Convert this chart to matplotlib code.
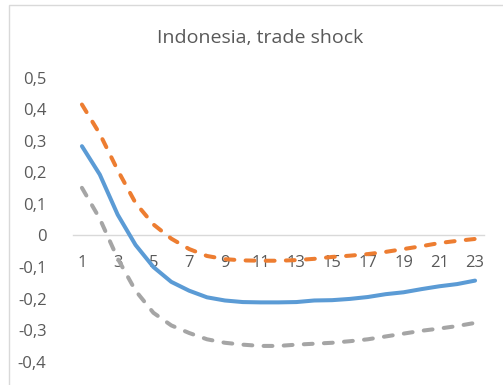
import matplotlib
matplotlib.use("Agg")
import matplotlib.pyplot as plt
from matplotlib.patches import Rectangle

periods = list(range(1, 24))
median = [0.283, 0.193, 0.066, -0.030, -0.100, -0.147, -0.175, -0.196, -0.206, -0.211,
          -0.212, -0.212, -0.211, -0.206, -0.205, -0.201, -0.195, -0.186, -0.180, -0.170,
          -0.161, -0.154, -0.143]
upper = [0.415, 0.322, 0.207, 0.103, 0.035, -0.010, -0.043, -0.065, -0.075, -0.079,
         -0.080, -0.080, -0.078, -0.074, -0.068, -0.064, -0.059, -0.052, -0.043, -0.034,
         -0.024, -0.017, -0.011]
lower = [0.151, 0.053, -0.073, -0.175, -0.245, -0.285, -0.309, -0.329, -0.340, -0.346,
         -0.350, -0.350, -0.346, -0.343, -0.340, -0.335, -0.329, -0.320, -0.311, -0.302,
         -0.295, -0.287, -0.277]
x_ticks = list(range(1, 24, 2))
y_ticks = [0.5, 0.4, 0.3, 0.2, 0.1, 0.0, -0.1, -0.2, -0.3, -0.4]
y_labels = ["0,5", "0,4", "0,3", "0,2", "0,1", "0", "-0,1", "-0,2", "-0,3", "-0,4"]
title = "Indonesia, trade shock"

plt.rcParams['font.family'] = ['Open Sans', 'DejaVu Sans']
txt = '#595959'

fig = plt.figure(figsize=(5.03, 3.85), dpi=100)
fig.patches.append(Rectangle((9/503, -0.2), 1.2, 1.2 - 5/385, transform=fig.transFigure,
                             fill=False, edgecolor='#d9d9d9', lw=1.0))
ax = fig.add_axes([73/503, (385-361.7)/385, (484-73)/503, (361.7-77.7)/385])

lw = 2.9
ax.plot(periods, lower, color='#a5a5a5', lw=lw, dashes=(2.2, 2.8), dash_capstyle='round',
        solid_joinstyle='round', zorder=3)
ax.plot(periods, upper, color='#ed7d31', lw=lw, dashes=(2.2, 2.8), dash_capstyle='round',
        solid_joinstyle='round', zorder=3)
ax.plot(periods, median, color='#5b9bd5', lw=lw, solid_capstyle='round',
        solid_joinstyle='round', zorder=4)

ax.set_xlim(0.5, 23.5)
ax.set_ylim(-0.4, 0.5)
for s in ['top', 'right', 'left']:
    ax.spines[s].set_visible(False)
ax.spines['bottom'].set_position(('data', 0))
ax.spines['bottom'].set_color('#d9d9d9')
ax.spines['bottom'].set_linewidth(1.0)
ax.spines['bottom'].set_zorder(1)

ax.set_xticks(x_ticks)
ax.set_xticklabels([str(v) for v in x_ticks])
ax.set_yticks(y_ticks)
ax.set_yticklabels(y_labels)
ax.tick_params(axis='x', length=0, pad=14, labelsize=12, colors=txt)
ax.tick_params(axis='y', length=0, pad=19, labelsize=12, colors=txt)
for lab in ax.get_xticklabels():
    lab.set_zorder(2)

fig.text(260/503, 1 - 38/385, title, ha='center', va='center', fontsize=14, color=txt)

fig.savefig('out.png', dpi=100)
